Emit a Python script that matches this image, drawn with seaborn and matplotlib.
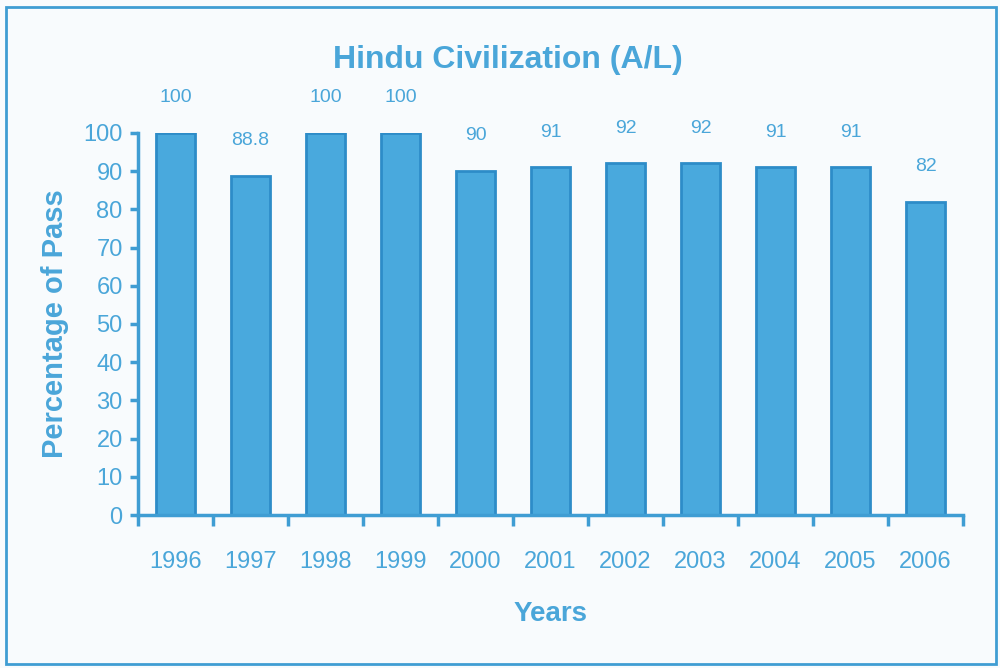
import pandas as pd
import numpy as np
import matplotlib
matplotlib.use('Agg')
import matplotlib.pyplot as plt
import seaborn as sns
from matplotlib.patches import Rectangle

# Data
years = ['1996', '1997', '1998', '1999', '2000', '2001', '2002', '2003', '2004', '2005', '2006']
pass_pct = [100, 88.8, 100, 100, 90, 91, 92, 92, 91, 91, 82]
value_labels = ['100', '88.8', '100', '100', '90', '91', '92', '92', '91', '91', '82']

df = pd.DataFrame({'year': years, 'pct': pass_pct})

sns.set_style('white')
plt.rcParams['font.family'] = ['Liberation Sans', 'DejaVu Sans']

text_col = '#4aa6d9'
line_col = '#3f9dd3'
bar_col = '#49a9dd'
edge_col = '#2d8cc8'
bg_col = '#f8fbfd'

fig = plt.figure(figsize=(10, 6.68), dpi=100, facecolor=bg_col)
ax = fig.add_axes([0.138, 0.229, 0.825, 0.572])
ax.set_facecolor(bg_col)

sns.barplot(data=df, x='year', y='pct', color=bar_col, width=0.53,
            edgecolor=edge_col, linewidth=2, saturation=1, ax=ax)

# value labels above each bar
for i, (v, lab) in enumerate(zip(pass_pct, value_labels)):
    ax.text(i, v + 7, lab, ha='center', va='bottom', fontsize=14,
            color=text_col, clip_on=False)

ax.set_xlim(-0.5, 10.5)
ax.set_ylim(0, 100)
ax.set_yticks(np.arange(0, 101, 10))

for s in ['top', 'right']:
    ax.spines[s].set_visible(False)
for s in ['left', 'bottom']:
    ax.spines[s].set_color(line_col)
    ax.spines[s].set_linewidth(2.5)

ax.tick_params(axis='y', which='major', direction='out', length=6, width=2.5,
               color=line_col, labelcolor=text_col, labelsize=17, pad=5, left=True)
ax.tick_params(axis='x', which='major', length=0, labelcolor=text_col,
               labelsize=17, pad=26)
ax.set_xticks(np.arange(-0.5, 10.6, 1), minor=True)
ax.tick_params(axis='x', which='minor', direction='out', length=8, width=2.5,
               color=line_col, bottom=True)

fig.suptitle('Hindu Civilization (A/L)', x=0.508, y=0.91, va='center',
             fontsize=23, fontweight='bold', color=text_col)
ax.set_xlabel('Years', fontsize=20, fontweight='bold', color=text_col, labelpad=20)
ax.set_ylabel('Percentage of Pass', fontsize=21, fontweight='bold', color=text_col,
              labelpad=10)

# outer frame of the picture
fig.patches.append(Rectangle((0.006, 0.006), 0.99, 0.984, transform=fig.transFigure,
                             fill=False, edgecolor=line_col, linewidth=2))

fig.savefig('out.png', dpi=100, facecolor=bg_col)
